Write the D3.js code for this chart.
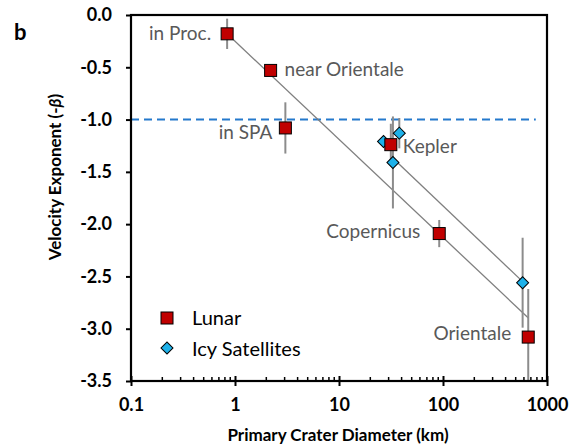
<!DOCTYPE html>
<html>
<head>
<meta charset="utf-8">
<script src="https://cdn.jsdelivr.net/npm/d3@7/dist/d3.min.js"></script>
<style>
  body { margin: 0; background: #fff; }
  svg { display: block; }
</style>
</head>
<body>
<div id="chart"></div>
<script>
// lunar craters: diameter (km), velocity exponent, error half-width
const lunarNames = ["in Proc.", "near Orientale", "in SPA", "Kepler", "Copernicus", "Orientale"]
const lunarDiam  = [0.84, 2.2, 3.05, 31.5, 92, 660]
const lunarExp   = [-0.18, -0.53, -1.08, -1.24, -2.09, -3.08]
const lunarErr   = [0.145, 0, 0.245, 0.2, 0.13, 0.46]

// icy satellite craters
const icyDiam = [26.8, 38, 33, 583]
const icyExp  = [-1.21, -1.13, -1.41, -2.56]
const icyErr  = [0, 0.145, 0.44, 0.43]

// fit lines (end points)
const lunarFitDiam = [0.84, 666]
const lunarFitExp  = [-0.18, -2.90]
const icyFitDiam   = [33, 570]
const icyFitExp    = [-1.37, -2.54]

// reference line at -1
const refDiam = [0.1, 780]
const refExp  = [-1, -1]

const xTicks = [0.1, 1, 10, 100, 1000]
const xTickLabels = ["0.1", "1", "10", "100", "1000"]
const yTicks = [0, -0.5, -1, -1.5, -2, -2.5, -3, -3.5]
const yTickLabels = ["0.0", "-0.5", "-1.0", "-1.5", "-2.0", "-2.5", "-3.0", "-3.5"]

// where each lunar label sits relative to its marker
const labelPlace = [
  { dx: -16, dy: 6,   anchor: "end" },
  { dx: 14,  dy: 6,   anchor: "start" },
  { dx: -13, dy: 11,  anchor: "end" },
  { dx: 12,  dy: 8,   anchor: "start" },
  { dx: -19, dy: 4,   anchor: "end" },
  { dx: -17, dy: 2.5, anchor: "end" }
]

const W = 572, H = 446
const margin = { top: 15, left: 131, right: 25, bottom: 65 }
const plotW = 416, plotH = 366

const RED = "#c00000", CYAN = "#1eb1e9"
const FONT = "Lato, 'Open Sans', sans-serif"

const svg = d3.select("#chart").append("svg")
  .attr("width", W).attr("height", H)
  .style("font-family", FONT)

const g = svg.append("g")
  .attr("transform", `translate(${margin.left},${margin.top})`)

const x = d3.scaleLog().domain([0.1, 1000]).range([0, plotW])
const y = d3.scaleLinear().domain([-3.5, 0]).range([plotH, 0])

g.append("clipPath").attr("id", "plotclip")
  .append("rect").attr("width", plotW).attr("height", plotH)

// dashed line at -1
g.append("line")
  .attr("x1", x(refDiam[0])).attr("x2", x(refDiam[1]))
  .attr("y1", y(refExp[0])).attr("y2", y(refExp[1]))
  .attr("stroke", "#2479cc").attr("stroke-width", 2)
  .attr("stroke-dasharray", "8,5")

// fit lines
const fitLine = d3.line().x(d => x(d[0])).y(d => y(d[1]))
g.append("path")
  .datum(lunarFitDiam.map((d, i) => [d, lunarFitExp[i]]))
  .attr("d", fitLine).attr("fill", "none")
  .attr("stroke", "#7f7f7f").attr("stroke-width", 1.3)
g.append("path")
  .datum(icyFitDiam.map((d, i) => [d, icyFitExp[i]]))
  .attr("d", fitLine).attr("fill", "none")
  .attr("stroke", "#7f7f7f").attr("stroke-width", 1.3)

const lunar = lunarNames.map((n, i) => ({ name: n, d: lunarDiam[i], v: lunarExp[i], e: lunarErr[i], p: labelPlace[i] }))
const icy = icyDiam.map((d, i) => ({ d: d, v: icyExp[i], e: icyErr[i] }))

// error bars, clipped to the plot box
const errG = g.append("g").attr("clip-path", "url(#plotclip)")
errG.selectAll("line.err")
  .data(lunar.concat(icy).filter(d => d.e > 0))
  .join("line")
  .attr("class", "err")
  .attr("x1", d => x(d.d)).attr("x2", d => x(d.d))
  .attr("y1", d => y(d.v + d.e)).attr("y2", d => y(d.v - d.e))
  .attr("stroke", "#8c8c8c").attr("stroke-width", 2)

// icy satellites diamonds
const diamond = d3.symbol().type(d3.symbolSquare).size(72)
g.selectAll("path.icy")
  .data(icy)
  .join("path")
  .attr("class", "icy")
  .attr("d", diamond)
  .attr("transform", d => `translate(${x(d.d)},${y(d.v)}) rotate(45)`)
  .attr("fill", CYAN).attr("stroke", "#000").attr("stroke-width", 1)

// lunar squares
g.selectAll("rect.lunar")
  .data(lunar)
  .join("rect")
  .attr("class", "lunar")
  .attr("x", d => x(d.d) - 6).attr("y", d => y(d.v) - 6)
  .attr("width", 12).attr("height", 12)
  .attr("fill", RED).attr("stroke", "#000").attr("stroke-width", 1)

// crater labels
g.selectAll("text.lab")
  .data(lunar)
  .join("text")
  .attr("class", "lab")
  .attr("x", d => x(d.d) + d.p.dx).attr("y", d => y(d.v) + d.p.dy)
  .attr("text-anchor", d => d.p.anchor)
  .style("font-size", "19px").style("fill", "#595959")
  .text(d => d.name)

// frame
g.append("rect")
  .attr("width", plotW).attr("height", plotH)
  .attr("fill", "none").attr("stroke", "#000").attr("stroke-width", 2.2)

// y axis
const yAxis = g.append("g")
  .call(d3.axisLeft(y).tickValues(yTicks).tickSize(5).tickPadding(14)
    .tickFormat((d, i) => yTickLabels[i]))
yAxis.select(".domain").remove()
yAxis.selectAll(".tick line").attr("stroke", "#000").attr("stroke-width", 2)
yAxis.selectAll("text")
  .style("font-family", FONT).style("font-size", "18px")
  .style("font-weight", "bold").style("fill", "#000")

// x axis: major ticks cross the axis, minor ticks inside
const xAxis = g.append("g")
  .attr("transform", `translate(0,${plotH})`)
  .call(d3.axisBottom(x).tickValues(xTicks).tickSize(5).tickPadding(12)
    .tickFormat((d, i) => xTickLabels[i]))
xAxis.select(".domain").remove()
xAxis.selectAll(".tick line").attr("stroke", "#000").attr("stroke-width", 2).attr("y1", -5)
xAxis.selectAll("text")
  .style("font-family", FONT).style("font-size", "18px")
  .style("font-weight", "bold").style("fill", "#000")

const minor = x.ticks().filter(t => !xTicks.some(m => Math.abs(m - t) < 1e-9))
xAxis.selectAll("line.minor")
  .data(minor)
  .join("line")
  .attr("class", "minor")
  .attr("x1", d => x(d)).attr("x2", d => x(d))
  .attr("y1", 0).attr("y2", -4)
  .attr("stroke", "#000").attr("stroke-width", 1.5)

// axis titles
svg.append("text")
  .attr("x", 338).attr("y", 441)
  .attr("text-anchor", "middle")
  .style("font-size", "17px").style("font-weight", "bold")
  .text("Primary Crater Diameter (km)")

const yTitle = svg.append("text")
  .attr("transform", `translate(61,177) rotate(-90)`)
  .attr("text-anchor", "middle")
  .style("font-size", "17px").style("font-weight", "bold")
yTitle.append("tspan").text("Velocity Exponent (-")
yTitle.append("tspan").style("font-style", "italic").text("β")
yTitle.append("tspan").text(")")

// panel letter
svg.append("text")
  .attr("x", 14).attr("y", 40)
  .style("font-size", "22px").style("font-weight", "bold")
  .text("b")

// legend
const legend = svg.append("g").attr("transform", `translate(${margin.left + 36},0)`)
legend.append("rect")
  .attr("x", -6).attr("y", 318 - 6).attr("width", 12).attr("height", 12)
  .attr("fill", RED).attr("stroke", "#000").attr("stroke-width", 1)
legend.append("text")
  .attr("x", 25).attr("y", 325)
  .style("font-size", "20px").style("fill", "#000")
  .text("Lunar")
legend.append("path")
  .attr("d", diamond)
  .attr("transform", "translate(0,348) rotate(45)")
  .attr("fill", CYAN).attr("stroke", "#000").attr("stroke-width", 1)
legend.append("text")
  .attr("x", 25).attr("y", 356)
  .style("font-size", "20px").style("fill", "#000")
  .text("Icy Satellites")
</script>
</body>
</html>
